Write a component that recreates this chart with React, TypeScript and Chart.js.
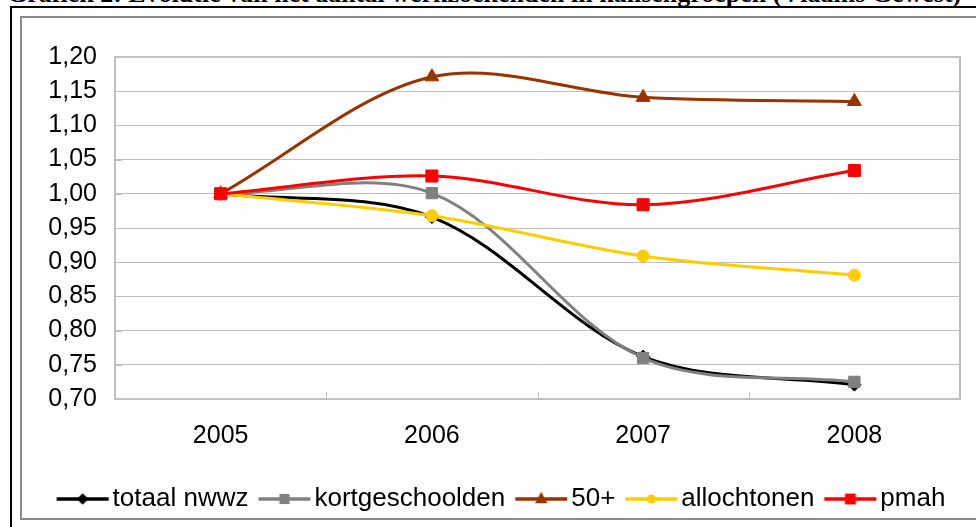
import React, { useEffect, useRef } from 'react';
import { Chart, registerables } from 'chart.js';

Chart.register(...registerables);

// ---- data ----
const years = ['2005', '2006', '2007', '2008'];
const totaalNwwz = [1.0, 0.966, 0.762, 0.721];
const kortgeschoolden = [1.0, 1.001, 0.76, 0.725];
const vijftigPlus = [1.0, 1.171, 1.141, 1.135];
const allochtonen = [1.0, 0.968, 0.909, 0.881];
const pmah = [1.0, 1.026, 0.984, 1.034];
const seriesNames = ['totaal nwwz', 'kortgeschoolden', '50+', 'allochtonen', 'pmah'];
const yMin = 0.7;
const yMax = 1.2;
const yStep = 0.05;
const titleText = 'Grafiek 2: Evolutie van het aantal werkzoekenden in kansengroepen (Vlaams Gewest)';

const FONT = "'Liberation Sans', Arial, sans-serif";
const AXIS_FS = 25;
const LEGEND_FS = 26;

type Marker = 'rectRot' | 'rect' | 'triangle' | 'circle';
const styles: { color: string; marker: Marker; radius: number }[] = [
  { color: '#000000', marker: 'rectRot', radius: 6.5 },
  { color: '#808080', marker: 'rect', radius: 8 },
  { color: '#993300', marker: 'triangle', radius: 8 },
  { color: '#FFCC00', marker: 'circle', radius: 6 },
  { color: '#FF0000', marker: 'rect', radius: 8.5 },
];

function legendSwatch(color: string, marker: Marker, r: number): HTMLCanvasElement {
  const c = document.createElement('canvas');
  c.width = 54;
  c.height = 18;
  const g = c.getContext('2d')!;
  const cx = c.width / 2;
  const cy = c.height / 2;
  g.strokeStyle = color;
  g.fillStyle = color;
  g.lineWidth = 3.5;
  g.beginPath();
  g.moveTo(1, cy);
  g.lineTo(c.width - 1, cy);
  g.stroke();
  g.beginPath();
  const rr = r * 0.9;
  if (marker === 'rectRot') {
    g.moveTo(cx, cy - rr);
    g.lineTo(cx + rr, cy);
    g.lineTo(cx, cy + rr);
    g.lineTo(cx - rr, cy);
  } else if (marker === 'rect') {
    const s = rr * Math.SQRT1_2;
    g.rect(cx - s, cy - s, 2 * s, 2 * s);
  } else if (marker === 'triangle') {
    g.moveTo(cx, cy - rr);
    g.lineTo(cx + rr * 0.87, cy + rr * 0.6);
    g.lineTo(cx - rr * 0.87, cy + rr * 0.6);
  } else {
    g.arc(cx, cy, rr * 0.85, 0, Math.PI * 2);
  }
  g.closePath();
  g.fill();
  return c;
}

const framePlugin = {
  id: 'frame',
  beforeDatasetsDraw(chart: any) {
    const { ctx, chartArea: a, scales } = chart;
    ctx.save();
    ctx.strokeStyle = '#c0c0c0';
    ctx.lineWidth = 2;
    ctx.strokeRect(a.left, a.top, a.right - a.left, a.bottom - a.top);
    ctx.lineWidth = 1;
    const x = scales.x;
    for (let i = 0; i < years.length - 1; i++) {
      const px = Math.round((x.getPixelForValue(i) + x.getPixelForValue(i + 1)) / 2) + 0.5;
      ctx.beginPath();
      ctx.moveTo(px, a.bottom);
      ctx.lineTo(px, a.bottom - 7);
      ctx.stroke();
    }
    const y = scales.y;
    for (const t of y.ticks) {
      const py = Math.round(y.getPixelForValue(t.value)) + 0.5;
      ctx.beginPath();
      ctx.moveTo(a.left, py);
      ctx.lineTo(a.left + 7, py);
      ctx.stroke();
    }
    ctx.restore();
  },
};

export default function App() {
  const ref = useRef<HTMLCanvasElement | null>(null);

  useEffect(() => {
    document.body.style.margin = '0';
    const values = [totaalNwwz, kortgeschoolden, vijftigPlus, allochtonen, pmah];
    const swatches = styles.map((s) => legendSwatch(s.color, s.marker, s.radius));
    const chart = new Chart(ref.current!, {
      type: 'line',
      data: {
        labels: years,
        datasets: values.map((v, i) => ({
          label: seriesNames[i],
          data: v,
          yAxisID: 'y',
          borderColor: styles[i].color,
          backgroundColor: styles[i].color,
          pointBackgroundColor: styles[i].color,
          pointBorderColor: styles[i].color,
          pointBorderWidth: 1,
          pointStyle: styles[i].marker,
          pointRadius: styles[i].radius,
          borderWidth: 3,
          tension: 0.33,
          fill: false,
          order: values.length - 1 - i,
        })),
      },
      options: {
        animation: false,
        responsive: false,
        layout: { padding: { top: 39, left: 0, right: 0, bottom: 0 } },
        plugins: {
          tooltip: { enabled: false },
          legend: {
            position: 'bottom',
            labels: {
              usePointStyle: true,
              pointStyleWidth: 34,
              padding: 19,
              color: '#000',
              font: { family: FONT, size: LEGEND_FS },
              sort: (a: any, b: any) => a.datasetIndex - b.datasetIndex,
              generateLabels: (ch: any) => {
                const items = Chart.defaults.plugins.legend.labels.generateLabels(ch);
                return items.map((it: any) => ({ ...it, pointStyle: swatches[it.datasetIndex] }));
              },
            },
          },
        },
        scales: {
          x: {
            type: 'category',
            offset: true,
            grid: { display: false, drawTicks: false },
            border: { display: false },
            ticks: { color: '#000', font: { family: FONT, size: AXIS_FS }, padding: 22, maxRotation: 0 },
            afterFit: (s: any) => {
              s.height = 68;
            },
          },
          y: {
            min: yMin,
            max: yMax,
            grid: { color: '#c0c0c0', lineWidth: 1, drawTicks: false },
            border: { display: false },
            ticks: {
              stepSize: yStep,
              autoSkip: false,
              color: '#000',
              padding: 18,
              font: { family: FONT, size: AXIS_FS },
              callback: (v: any) => Number(v).toFixed(2).replace('.', ','),
            },
            afterFit: (s: any) => {
              s.width = 92;
            },
          },
          spacer: {
            type: 'linear',
            position: 'right',
            display: true,
            grid: { display: false, drawTicks: false },
            border: { display: false },
            ticks: { display: false },
            afterFit: (s: any) => {
              s.width = 28;
            },
          },
        },
      } as any,
      plugins: [framePlugin],
    });
    return () => chart.destroy();
  }, []);

  return (
    <div style={{ position: 'fixed', left: 0, top: 0, width: 976, height: 527, overflow: 'hidden', background: '#fff' }}>
      <div
        style={{
          position: 'absolute',
          left: 7,
          top: -19,
          whiteSpace: 'nowrap',
          fontFamily: "'Liberation Serif', 'Times New Roman', serif",
          fontWeight: 'bold',
          fontSize: 26,
          lineHeight: '26px',
          color: '#000',
        }}
      >
        {titleText}
      </div>
      <div
        style={{
          position: 'absolute',
          left: 10,
          top: 6,
          width: 1000,
          height: 560,
          border: '2px solid #000',
          boxSizing: 'border-box',
        }}
      />
      <div
        style={{
          position: 'absolute',
          left: 20,
          top: 16,
          width: 970,
          height: 504,
          border: '2px solid #8c8c8c',
          boxSizing: 'border-box',
        }}
      />
      <canvas
        ref={ref}
        width={965}
        height={504}
        style={{ position: 'absolute', left: 23, top: 18, width: 965, height: 504 }}
      />
    </div>
  );
}
